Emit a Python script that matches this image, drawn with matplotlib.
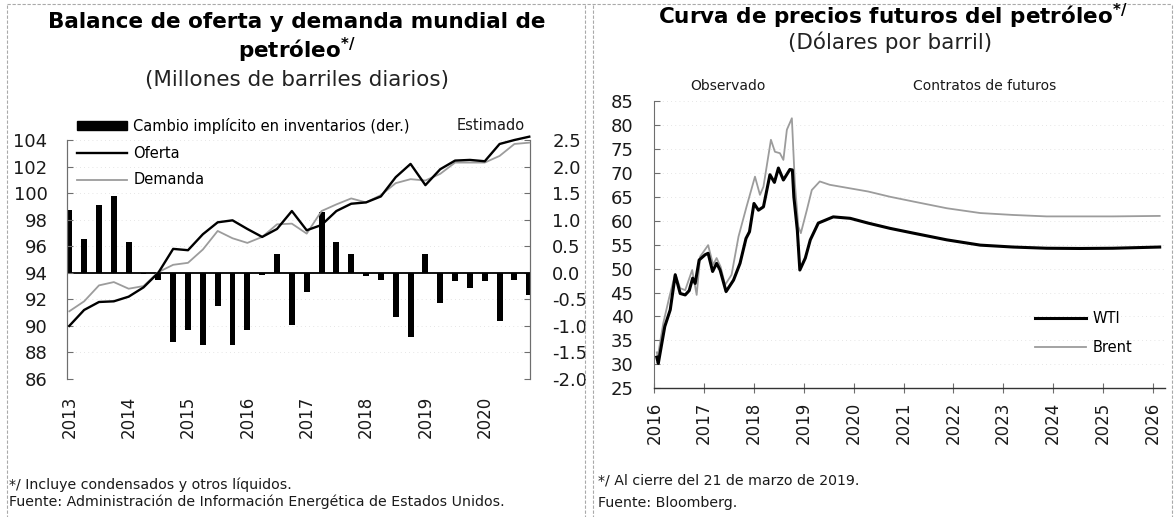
import matplotlib
matplotlib.use("Agg")
import matplotlib.pyplot as plt
import numpy as np
from matplotlib.lines import Line2D
from matplotlib.patches import Patch

# ---------------- Data: left chart (quarterly 2013Q1-2020Q4) ----------------
anios_izq = ["2013", "2014", "2015", "2016", "2017", "2018", "2019", "2020"]
oferta = [90.0, 91.2, 91.8, 91.85, 92.2, 92.9, 94.0, 95.8, 95.7, 96.9, 97.8, 97.95,
          97.3, 96.7, 97.3, 98.65, 97.2, 97.6, 98.65, 99.2, 99.3, 99.75, 101.2, 102.2,
          100.6, 101.8, 102.45, 102.5, 102.4, 103.7, 104.0, 104.25]
demanda = [91.1, 91.85, 93.05, 93.3, 92.8, 93.0, 94.05, 94.6, 94.75, 95.75, 97.15, 96.6,
           96.25, 96.7, 97.65, 97.7, 96.95, 98.65, 99.15, 99.6, 99.3, 99.85, 100.75, 101.05,
           100.95, 101.45, 102.3, 102.3, 102.3, 102.8, 103.7, 103.8]
inventarios = [1.19, 0.64, 1.28, 1.45, 0.58, -0.02, -0.14, -1.30, -1.08, -1.36, -0.62, -1.36,
               -1.08, -0.04, 0.36, -0.99, -0.36, 1.14, 0.58, 0.36, -0.06, -0.14, -0.84, -1.21,
               0.36, -0.57, -0.16, -0.29, -0.16, -0.90, -0.14, -0.42]

# ---------------- Data: right chart ----------------
fechas_wti = [2016.05, 2016.08, 2016.21, 2016.32, 2016.42, 2016.52, 2016.62, 2016.70, 2016.77,
              2016.82, 2016.90, 2017.02, 2017.08, 2017.17, 2017.25, 2017.32, 2017.44, 2017.59,
              2017.72, 2017.84, 2017.91, 2018.00, 2018.09, 2018.19, 2018.32, 2018.41, 2018.49,
              2018.59, 2018.72, 2018.77, 2018.80, 2018.87, 2018.92, 2019.03, 2019.13, 2019.29,
              2019.59, 2019.93, 2020.29, 2020.73, 2021.20, 2021.87, 2022.54, 2023.20, 2023.87,
              2024.54, 2025.20, 2026.14]
wti = [31.5, 30.2, 37.9, 41.4, 48.7, 44.8, 44.5, 45.4, 48.0,
       46.9, 51.8, 52.9, 53.2, 49.4, 51.1, 49.7, 45.2, 47.6,
       51.1, 56.3, 57.7, 63.6, 62.2, 62.9, 69.6, 68.0, 71.0,
       68.5, 70.7, 70.6, 65.0, 58.0, 49.7, 52.2, 56.0, 59.5,
       60.8, 60.5, 59.5, 58.4, 57.4, 56.0, 54.9, 54.5, 54.25,
       54.2, 54.25, 54.5]
fechas_brent = [2016.05, 2016.07, 2016.18, 2016.30, 2016.42, 2016.52, 2016.62, 2016.76, 2016.85,
                2016.92, 2017.08, 2017.18, 2017.25, 2017.33, 2017.42, 2017.55, 2017.69, 2017.85,
                2018.02, 2018.12, 2018.19, 2018.34, 2018.42, 2018.52, 2018.59, 2018.66, 2018.76,
                2018.82, 2018.89, 2018.94, 2019.06, 2019.16, 2019.32, 2019.52, 2020.29, 2020.73,
                2021.20, 2021.87, 2022.54, 2023.20, 2023.87, 2024.54, 2025.20, 2026.14]
brent = [32.5, 31.6, 38.6, 44.0, 48.9, 45.9, 45.5, 49.7, 44.5,
         52.5, 54.9, 50.8, 52.2, 50.4, 46.6, 48.7, 56.7, 62.9,
         69.2, 65.4, 67.1, 76.9, 74.4, 74.1, 72.7, 79.0, 81.4,
         67.9, 58.8, 57.4, 62.2, 66.4, 68.2, 67.5, 66.1, 65.0,
         64.0, 62.6, 61.6, 61.2, 60.9, 60.9, 60.9, 61.0]
anios_der = list(range(2016, 2027))

# ---------------- Figure ----------------
W, H = 1176, 517
fig = plt.figure(figsize=(W / 100, H / 100), dpi=100)
plt.rcParams['font.family'] = ['DejaVu Sans']

def fx(px):
    return px / W

def fy(py):
    return 1 - py / H

GRAY = '#6e6e6e'
LIGHT = '#9c9c9c'
TXT = '#1a1a1a'

# panel borders
for xs, ys in [([7, 7], [5, 517]), ([585, 585], [5, 517]), ([593, 593], [5, 517]),
               ([7, 1172], [4, 4]), ([1172, 1172], [5, 517])]:
    fig.add_artist(Line2D([fx(x) for x in xs], [fy(y) for y in ys], color='#aaaaaa',
                          lw=0.8, ls=(0, (3, 1.5))))

# ---------------- Left chart ----------------
axL = fig.add_axes([fx(67), fy(379), fx(530) - fx(67), fy(140) - fy(379)])
axR = axL.twinx()
x = np.arange(len(oferta))

axR.bar(x, inventarios, width=0.4, color='black', zorder=2)
axR.axhline(0, color='black', lw=1.3, zorder=3)
axR.set_ylim(-2.0, 2.5)
axR.set_yticks(np.arange(-2.0, 2.51, 0.5))
axR.set_yticklabels([f"{v:.1f}" for v in np.arange(-2.0, 2.51, 0.5)])
axR.grid(axis='y', color='#dddddd', lw=0.6, ls=(0, (1, 4)))

axL.set_zorder(axR.get_zorder() + 1)
axL.patch.set_visible(False)
axL.plot(x, demanda, color=LIGHT, lw=1.3, clip_on=False, zorder=4)
axL.plot(x, oferta, color='black', lw=1.7, clip_on=False, zorder=5)
axL.set_ylim(86, 104)
axL.set_yticks(np.arange(86, 105, 2))
axL.set_xlim(-0.155, 31.05)
axL.set_xticks(np.arange(0, 32, 4))
axL.set_xticklabels(anios_izq, rotation=90)

for a in (axL, axR):
    a.spines['top'].set_visible(False)
    a.spines['bottom'].set_visible(False)
    a.spines['left'].set_color(GRAY)
    a.spines['right'].set_color(GRAY)
    a.spines['left'].set_linewidth(0.8)
    a.spines['right'].set_linewidth(0.8)
axL.tick_params(axis='y', direction='in', length=4, color=GRAY, labelsize=13, pad=14,
                labelcolor=TXT)
axR.tick_params(axis='y', direction='in', length=4, color=GRAY, labelsize=13, pad=16,
                labelcolor=TXT)
axL.tick_params(axis='x', length=0, labelsize=12, pad=12, labelcolor=TXT)

handles = [Patch(facecolor='black', edgecolor='black'),
           Line2D([], [], color='black', lw=1.7),
           Line2D([], [], color=LIGHT, lw=1.3)]
labels = ['Cambio implícito en inventarios (der.)', 'Oferta', 'Demanda']
axL.legend(handles, labels, loc='upper left', bbox_to_anchor=(fx(77), fy(118)),
           bbox_transform=fig.transFigure, frameon=False, fontsize=10.5,
           handlelength=3.4, handleheight=0.55, handletextpad=0.45, labelspacing=0.8,
           borderaxespad=0, borderpad=0)
fig.text(fx(491), fy(126), 'Estimado', ha='center', va='center', fontsize=10.5, color=TXT)

fig.text(fx(297), fy(22), 'Balance de oferta y demanda mundial de', ha='center', va='center',
         fontsize=15.5, fontweight='bold')
fig.text(fx(297), fy(50), r'petróleo$^{\mathbf{*/}}$', ha='center', va='center',
         fontsize=15.5, fontweight='bold')
fig.text(fx(297), fy(80), '(Millones de barriles diarios)', ha='center', va='center',
         fontsize=15.5, color='#222222')
fig.text(fx(9), fy(485), '*/ Incluye condensados y otros líquidos.', ha='left', va='center',
         fontsize=10.2, color=TXT)
fig.text(fx(9), fy(502), 'Fuente: Administración de Información Energética de Estados Unidos.',
         ha='left', va='center', fontsize=10.2, color=TXT)

# ---------------- Right chart ----------------
ax2 = fig.add_axes([fx(654.3), fy(388.3), fx(1165) - fx(654.3), fy(101) - fy(388.3)])
ax2.plot(fechas_brent, brent, color=LIGHT, lw=1.3, label='Brent', zorder=3)
ax2.plot(fechas_wti, wti, color='black', lw=2.2, label='WTI', zorder=4)
ax2.set_xlim(2016, 2016 + (1165 - 654.3) / 49.84)
ax2.set_ylim(25, 85)
ax2.set_yticks(np.arange(25, 86, 5))
ax2.set_xticks(anios_der)
ax2.set_xticklabels([str(a) for a in anios_der], rotation=90)
ax2.grid(axis='y', color='#dddddd', lw=0.6, ls=(0, (1, 4)))
ax2.spines['top'].set_visible(False)
ax2.spines['right'].set_visible(False)
ax2.spines['left'].set_color(GRAY)
ax2.spines['left'].set_linewidth(0.8)
ax2.spines['bottom'].set_color('#333333')
ax2.spines['bottom'].set_linewidth(1.0)
ax2.tick_params(axis='y', direction='in', length=4, color=GRAY, labelsize=13, pad=15,
                labelcolor=TXT)
ax2.tick_params(axis='x', direction='inout', length=7, color=GRAY, labelsize=12, pad=6,
                labelcolor=TXT)
h2, l2 = ax2.get_legend_handles_labels()
ax2.legend(h2[::-1], l2[::-1], loc='upper left', bbox_to_anchor=(fx(1035), fy(311)),
           bbox_transform=fig.transFigure, frameon=False, fontsize=10.5,
           handlelength=3.5, handletextpad=0.45, labelspacing=0.95, borderaxespad=0, borderpad=0)

fig.text(fx(893), fy(16), r'Curva de precios futuros del petróleo$^{\mathbf{*/}}$', ha='center',
         va='center', fontsize=15.5, fontweight='bold')
fig.text(fx(890), fy(42), '(Dólares por barril)', ha='center', va='center', fontsize=15.5,
         color='#222222')
fig.text(fx(728), fy(86), 'Observado', ha='center', va='center', fontsize=10, color=TXT)
fig.text(fx(985), fy(86), 'Contratos de futuros', ha='center', va='center', fontsize=10, color=TXT)
fig.text(fx(598), fy(480), '*/ Al cierre del 21 de marzo de 2019.', ha='left', va='center',
         fontsize=10.2, color=TXT)
fig.text(fx(598), fy(503), 'Fuente: Bloomberg.', ha='left', va='center', fontsize=10.2, color=TXT)

fig.savefig('out.png', dpi=100)
